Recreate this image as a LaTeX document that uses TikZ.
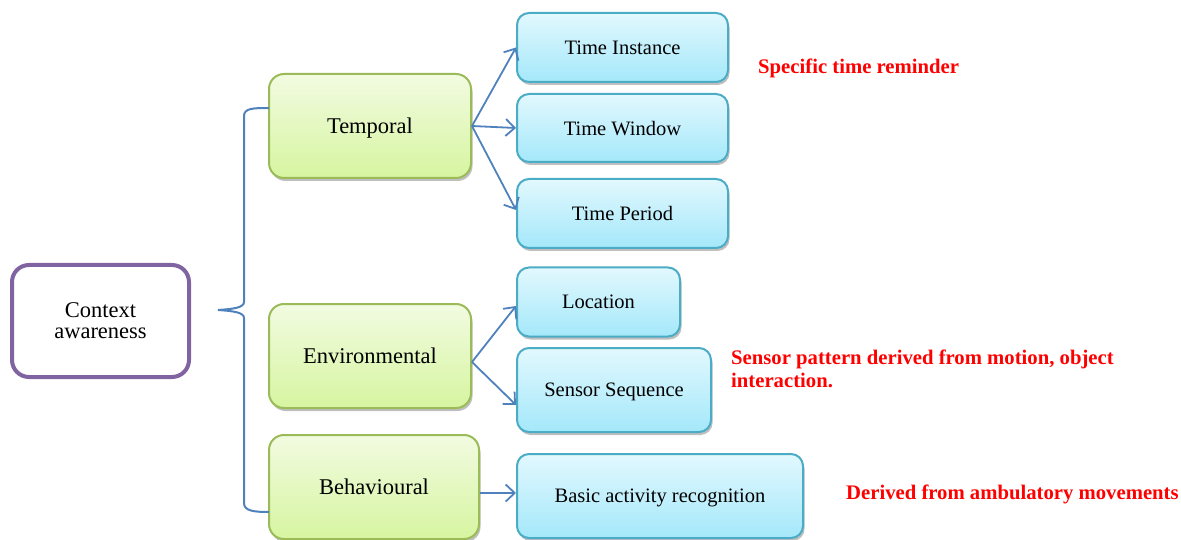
\documentclass[tikz,border=0pt]{standalone}
\usepackage{fontspec}
\setmainfont{Liberation Serif}
\usetikzlibrary{arrows.meta,shadows}
\definecolor{purp}{HTML}{8064A2}
\definecolor{gborder}{HTML}{9BBB59}
\definecolor{gtop}{HTML}{F2FBE1}
\definecolor{gbot}{HTML}{D6F5A0}
\definecolor{bborder}{HTML}{4BACC6}
\definecolor{btop}{HTML}{E2F8FE}
\definecolor{bbot}{HTML}{A4E8FA}
\definecolor{arr}{HTML}{4F81BD}
\definecolor{redtxt}{HTML}{FF0000}
\tikzset{
  shade/.style={drop shadow={shadow xshift=1.5pt,shadow yshift=-3pt,opacity=0.25,fill=black}},
  rootbox/.style={draw=purp,line width=4pt,rounded corners=17pt,fill=white,align=center,
    font=\fontsize{22.5}{21}\selectfont,inner sep=0pt},
  catbox/.style={draw=gborder,line width=2pt,rounded corners=15pt,top color=gtop,bottom color=gbot,
    shade,align=center,font=\fontsize{22.5}{26}\selectfont,inner sep=0pt,text depth=0pt},
  leafbox/.style={draw=bborder,line width=2pt,rounded corners=12pt,top color=btop,bottom color=bbot,
    shade,align=center,font=\fontsize{20.5}{24}\selectfont,inner sep=0pt,text depth=0pt},
  note/.style={text=redtxt,font=\bfseries\fontsize{20.7}{23}\selectfont,inner sep=0pt,align=left},
  link/.style={draw=arr,line width=1.8pt,-{Straight Barb[length=9pt,width=17pt,line width=1.8pt]}},
  bracket/.style={draw=arr,line width=2pt}
}
\begin{document}
\begin{tikzpicture}[x=1pt,y=-1pt]
\useasboundingbox (0,0) rectangle (1181,540);
% root
\node[rootbox,minimum width=177pt,minimum height=112pt] (ctx) at (100.5,321) {Context\\awareness};
% categories
\node[catbox,minimum width=202pt,minimum height=104pt] (temp) at (370,126) {Temporal};
\node[catbox,minimum width=202pt,minimum height=104pt] (env) at (370,356) {Environmental};
\node[catbox,minimum width=210pt,minimum height=104pt] (beh) at (374,487) {Behavioural};
% leaves
\node[leafbox,minimum width=211pt,minimum height=69pt] (ti) at (622.5,47.5) {Time Instance};
\node[leafbox,minimum width=211pt,minimum height=68pt] (tw) at (622.5,128) {Time Window};
\node[leafbox,minimum width=211pt,minimum height=69pt] (tp) at (622.5,213.5) {Time Period};
\node[leafbox,minimum width=163pt,minimum height=69pt] (loc) at (598.5,302) {Location};
\node[leafbox,minimum width=194pt,minimum height=84pt] (ss) at (614,390) {Sensor Sequence};
\node[leafbox,minimum width=286pt,minimum height=84pt] (bar) at (660,496) {Basic activity recognition};
% notes
\node[note,anchor=west] (n1) at (758,68) {Specific time reminder};
\node[note,anchor=north west] (n2) at (731,350) {Sensor pattern derived from motion, object\\interaction.};
\node[note,anchor=west] (n3) at (846,494) {Derived from ambulatory movements};
% arrows
\coordinate (tout) at (472,126);
\coordinate (eout) at (472,362);
\draw[link] (tout) -- (ti.west);
\draw[link] (tout) -- (tw.west);
\draw[link] (tout) -- (tp.west |- 0,210);
\draw[link] (eout) -- (loc.west |- 0,306);
\draw[link] (eout) -- (ss.west |- 0,405);
\draw[link] (beh.east |- 0,493) -- (bar.west |- 0,493);
% bracket
\coordinate (btop) at (269,108);
\coordinate (tip) at (218,310);
\coordinate (bbot) at (269,512);
\draw[bracket] (btop) .. controls (254,108) and (244,108) .. (244,116) -- (244,302)
  .. controls (244,308) and (232,309) .. (tip)
  .. controls (232,311) and (244,312) .. (244,318) -- (244,503)
  .. controls (244,511) and (254,512) .. (bbot);
\end{tikzpicture}
\end{document}
